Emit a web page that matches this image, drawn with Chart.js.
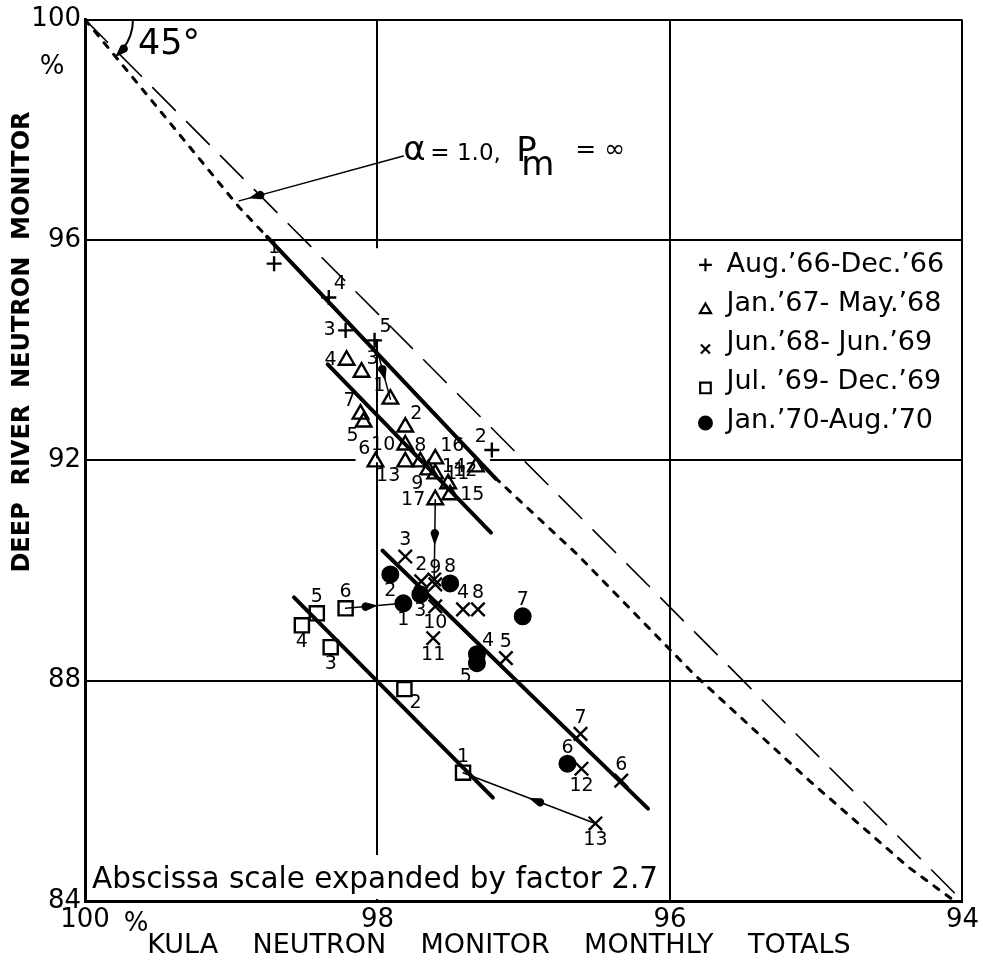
<!DOCTYPE html>
<html>
<head>
<meta charset="utf-8">
<title>Deep River vs Kula neutron monitor</title>
<script src="https://cdn.jsdelivr.net/npm/chart.js@4.4.1/dist/chart.umd.min.js"></script>
<style>
  html, body { margin: 0; padding: 0; background: #fff; }
  #wrap { width: 983px; height: 961px; }
</style>
</head>
<body>
<div id="wrap"><canvas id="chart" width="983" height="961"></canvas></div>
<script>
// ── Data (monthly totals, % of base level; x = Kula, y = Deep River) ─────────
const plusLabel = 'Aug.’66-Dec.’66';
const plusX = [98.707, 97.218, 98.218, 98.333, 98.020];
const plusY = [95.570, 92.188, 94.358, 94.955, 94.177];
const plusNum = ['1', '2', '3', '4', '5'];

const triLabel = 'Jan.’67- May.’68';
const triX = [97.912, 97.810, 98.109, 98.211, 98.095, 98.014, 98.116, 97.707, 97.653,
              97.810, 97.605, 97.517, 97.810, 97.327, 97.503, 97.605, 97.605];
const triY = [93.110, 92.604, 93.599, 93.816, 92.694, 91.971, 92.839, 91.971, 91.826,
              92.278, 91.754, 91.573, 91.971, 91.881, 91.374, 92.025, 91.284];
const triNum = ['1', '2', '3', '4', '5', '6', '7', '8', '9', '10', '11', '12', '13', '14', '15', '16', '17'];

const crossLabel = 'Jun.’68- Jun.’69';
const crossX = [97.612, 97.701, 97.810, 97.415, 97.122, 96.333, 96.612, 97.313, 97.605,
                97.605, 97.619, 96.605, 96.510];
const crossY = [89.837, 89.801, 90.253, 89.295, 88.409, 86.185, 87.034, 89.295, 89.747,
                89.349, 88.770, 86.401, 85.407];
const crossNum = ['1', '2', '3', '4', '5', '6', '7', '8', '9', '10', '11', '12', '13'];

const sqLabel = 'Jul. ’69- Dec.’69';
const sqX = [97.415, 97.816, 98.320, 98.517, 98.415, 98.218];
const sqY = [86.329, 87.848, 88.608, 89.005, 89.222, 89.313];
const sqNum = ['1', '2', '3', '4', '5', '6'];

const dotLabel = 'Jan.’70-Aug.’70';
const dotX = [97.823, 97.912, 97.707, 97.320, 97.320, 96.701, 97.007, 97.503];
const dotY = [89.403, 89.928, 89.566, 88.481, 88.318, 86.492, 89.168, 89.765];
const dotNum = ['1', '2', '3', '4', '5', '6', '7', '8'];

// hand-fitted regression lines, one per period
const fitAX = [98.755, 97.190], fitAY = [96.058, 91.664];
const fitBX = [98.340, 97.224], fitBY = [93.743, 90.687];
const fitCX = [97.966, 96.150], fitCY = [90.362, 85.678];
const fitDX = [98.571, 97.211], fitDY = [89.512, 85.877];

// theoretical curve alpha = 1.0, Pm = infinity
const theoX = [100, 99.714, 98.946, 97.211, 96.633, 95.837, 95.048, 94.367, 94.08];
const theoY = [100, 99.080, 96.594, 91.723, 90.289, 88.119, 86.185, 84.610, 84.05];

// 45 degree reference line
const diagX = [100, 94];
const diagY = [100, 84];

// leader from the curve label to the curve
const leaderX = [97.823, 98.946];
const leaderY = [97.523, 96.709];

const xTicks = [100, 98, 96, 94];
const yTicks = [84, 88, 92, 96, 100];

const NOTE_TEXT = 'Abscissa scale expanded by factor 2.7';
const X_TITLE = 'KULA    NEUTRON    MONITOR    MONTHLY    TOTALS';
const Y_TITLE = 'DEEP  RIVER  NEUTRON  MONITOR';

// ── Styles ────────────────────────────────────────────────────────────────────
const FONT = '"DejaVu Sans", sans-serif';
const plusPos = ['n', 'nw', 'w', 'ne', 'ne'];
const triPos = ['nw', 'ne', 'ne', 'w', 'sw', 'nw', 'nw', 'n', 'sw', 'w', 'e', 'ne', 'sw', 'w', 'e', 'ne', 'w'];
const crossPos = [null, 'n', 'n', 'n', 'n', 'n', 'n', 'n', 'n', 's', 's', 's', 's'];
const sqPos = ['n', 'se', 's', 's', 'n', 'n'];
const dotPos = ['s', 's', 's', 'ne', 'sw', 'n', 'n', 'n'];

// stretches where the original drawing leaves the grid blank: [axis, at, from, to]
const gridGaps = [['x', 98, 95.85, 94.2], ['y', 92, 98.15, 97.23]];

const pts = (xs, ys) => xs.map((v, i) => ({ x: v, y: ys[i] }));

function markerSet(label, xs, ys, nums, pos, style, radius, fill, row) {
  return {
    label, data: pts(xs, ys), nums, numPos: pos, legendRow: row,
    pointStyle: style, pointRadius: radius, pointHoverRadius: radius,
    pointBorderWidth: 2.4, pointBorderColor: '#000', pointBackgroundColor: fill,
    showLine: false, order: 0
  };
}

function lineSet(data, width, dash, order) {
  return {
    data, showLine: true, pointRadius: 0, borderColor: '#000', borderWidth: width,
    borderDash: dash, borderCapStyle: 'round', fill: false, order
  };
}

// connectors showing the month-to-month sequence between periods
function link(xs0, ys0, i0, xs1, ys1, i1, t) {
  const ds = lineSet([{ x: xs0[i0], y: ys0[i0] }, { x: xs1[i1], y: ys1[i1] }], 1.5, [], 1);
  ds.arrowAt = t;
  return ds;
}

const leaderSet = lineSet(pts(leaderX, leaderY), 1.5, [], 1);
leaderSet.arrowAt = 0.89;
leaderSet.isLeader = true;

const datasets = [
  markerSet(plusLabel, plusX, plusY, plusNum, plusPos, 'cross', 7.5, 'rgba(0,0,0,0)', 0),
  markerSet(triLabel, triX, triY, triNum, triPos, 'triangle', 9, 'rgba(0,0,0,0)', 1),
  markerSet(crossLabel, crossX, crossY, crossNum, crossPos, 'crossRot', 9.5, 'rgba(0,0,0,0)', 2),
  markerSet(sqLabel, sqX, sqY, sqNum, sqPos, 'rect', 10, 'rgba(0,0,0,0)', 3),
  markerSet(dotLabel, dotX, dotY, dotNum, dotPos, 'circle', 7.8, '#000', 4),
  link(plusX, plusY, 4, triX, triY, 0, 0.54),
  link(triX, triY, 16, crossX, crossY, 0, 0.46),
  link(crossX, crossY, 12, sqX, sqY, 0, 0.44),
  link(sqX, sqY, 5, dotX, dotY, 0, 0.40),
  leaderSet,
  lineSet(pts(fitAX, fitAY), 4, [], 2),
  lineSet(pts(fitBX, fitBY), 4, [], 2),
  lineSet(pts(fitCX, fitCY), 4, [], 2),
  lineSet(pts(fitDX, fitDY), 4, [], 2),
  lineSet(pts(theoX, theoY), 3, [6, 9], 3),
  lineSet(pts(diagX, diagY), 1.6, [32, 16], 3)
];

// ── Drawing helpers ───────────────────────────────────────────────────────────
const OFFS = {
  n: [0, -16, 'center'], s: [0, 17, 'center'], e: [10, 0, 'left'], w: [-10, 0, 'right'],
  ne: [5, -13, 'left'], nw: [-5, -13, 'right'], se: [5, 14, 'left'], sw: [-5, 14, 'right']
};

function placeLabel(ctx, text, x, y, pos) {
  if (!pos) return;
  const o = OFFS[pos];
  ctx.textAlign = o[2];
  ctx.textBaseline = 'middle';
  ctx.fillText(text, x + o[0], y + o[1]);
}

function drawArrowHead(ctx, x, y, ang) {
  ctx.save();
  ctx.translate(x, y);
  ctx.rotate(ang);
  ctx.beginPath();
  ctx.moveTo(9, 0);
  ctx.lineTo(-2, -4);
  ctx.arc(-3, 0, 4.3, -Math.PI / 2, Math.PI / 2, true);
  ctx.closePath();
  ctx.fill();
  ctx.restore();
}

const legendDy = [0, 6, 6, 6, 2];

const deco = {
  id: 'deco',
  beforeDatasetsDraw(chart) {
    const { ctx, chartArea: a, scales: { x, y } } = chart;
    ctx.save();
    ctx.fillStyle = '#fff';
    // blank stretches of grid
    gridGaps.forEach(([ax, at, from, to]) => {
      if (ax === 'x') {
        const px = x.getPixelForValue(at), y0 = y.getPixelForValue(from), y1 = y.getPixelForValue(to);
        ctx.fillRect(px - 2, y0, 4, y1 - y0);
      } else {
        const py = y.getPixelForValue(at), x0 = x.getPixelForValue(from), x1 = x.getPixelForValue(to);
        ctx.fillRect(x0, py - 2, x1 - x0, 4);
      }
    });
    // note box, stopping short of the 96 grid line
    ctx.font = '29.5px ' + FONT;
    const w = ctx.measureText(NOTE_TEXT).width;
    const boxRight = Math.min(a.left + 14 + w, x.getPixelForValue(96) - 2);
    ctx.fillRect(a.left + 2, a.bottom - 46, boxRight - a.left - 2, 44);
    ctx.fillStyle = '#000';
    ctx.textBaseline = 'middle';
    ctx.fillText(NOTE_TEXT, a.left + 7, a.bottom - 21);
    ctx.restore();
  },
  afterDatasetsDraw(chart) {
    const { ctx, chartArea: a, scales: { x, y } } = chart;
    ctx.save();
    ctx.fillStyle = '#000';
    ctx.strokeStyle = '#000';

    // month numbers beside each point
    ctx.font = '19px ' + FONT;
    chart.data.datasets.forEach((ds, i) => {
      if (!ds.nums) return;
      chart.getDatasetMeta(i).data.forEach((p, j) => placeLabel(ctx, ds.nums[j], p.x, p.y, ds.numPos[j]));
    });

    // arrowheads on connectors
    let lead = null;
    chart.data.datasets.forEach((ds, i) => {
      if (ds.arrowAt == null) return;
      const [p0, p1] = chart.getDatasetMeta(i).data;
      const t = ds.arrowAt;
      drawArrowHead(ctx, p0.x + (p1.x - p0.x) * t, p0.y + (p1.y - p0.y) * t,
        Math.atan2(p1.y - p0.y, p1.x - p0.x));
      if (ds.isLeader) lead = p0;
    });

    // curve label: alpha = 1.0, Pm = infinity
    if (lead) {
      const tx = lead.x, by = lead.y + 4;
      ctx.textAlign = 'left';
      ctx.textBaseline = 'alphabetic';
      ctx.font = '34px ' + FONT; ctx.fillText('α', tx, by);
      ctx.font = '23px ' + FONT; ctx.fillText('= 1.0,', tx + 27, by);
      ctx.font = '34px ' + FONT; ctx.fillText('P', tx + 113, by + 1);
      ctx.font = '34px ' + FONT; ctx.fillText('m', tx + 118, by + 15);
      ctx.font = '25px ' + FONT; ctx.fillText('= ∞', tx + 172, by - 3);
    }

    // 45 degree arc at the origin corner
    const cx = x.getPixelForValue(diagX[0]), cy = y.getPixelForValue(diagY[0]);
    const ang = Math.atan2(y.getPixelForValue(diagY[1]) - cy, x.getPixelForValue(diagX[1]) - cx);
    ctx.lineWidth = 2;
    ctx.beginPath();
    ctx.arc(cx, cy, 48, 0, ang - 0.12);
    ctx.stroke();
    drawArrowHead(ctx, cx + 48 * Math.cos(ang - 0.08), cy + 48 * Math.sin(ang - 0.08), ang + Math.PI / 2);
    ctx.font = '35px ' + FONT;
    ctx.textAlign = 'left';
    ctx.textBaseline = 'middle';
    ctx.fillText('45°', cx + 53, cy + 25);

    // percent signs next to the 100 ticks
    ctx.font = '26px ' + FONT;
    ctx.textAlign = 'center';
    ctx.fillText('%', a.left - 33, y.getPixelForValue(100) + 48);
    ctx.fillText('%', x.getPixelForValue(100) + 51, a.bottom + 23);

    // legend
    chart.data.datasets.forEach(ds => {
      if (ds.legendRow == null) return;
      const r = ds.legendRow;
      const ly = y.getPixelForValue(96) + 25 + r * 39;
      ctx.lineWidth = 2.2;
      ctx.fillStyle = ds.pointBackgroundColor;
      Chart.helpers.drawPoint(ctx, {
        pointStyle: ds.pointStyle, radius: ds.pointStyle === 'rect' ? 7.5 : 6.4,
        borderWidth: 2.2, rotation: 0
      }, a.right - 257, ly + legendDy[r]);
      ctx.fillStyle = '#000';
      ctx.font = '27px ' + FONT;
      ctx.textAlign = 'left';
      ctx.textBaseline = 'middle';
      ctx.fillText(ds.label, a.right - 236, ly);
    });

    // axis titles
    ctx.textAlign = 'center';
    ctx.textBaseline = 'middle';
    ctx.font = '27px ' + FONT;
    ctx.fillText(X_TITLE, 499, chart.height - 15);
    ctx.save();
    ctx.translate(23, 342);
    ctx.rotate(-Math.PI / 2);
    ctx.font = 'bold 24px ' + FONT;
    ctx.fillText(Y_TITLE, 0, 0);
    ctx.restore();

    ctx.restore();
  }
};

// ── Chart ─────────────────────────────────────────────────────────────────────
new Chart(document.getElementById('chart'), {
  type: 'scatter',
  data: { datasets },
  options: {
    responsive: false,
    animation: false,
    events: [],
    layout: { autoPadding: false, padding: { top: 16, right: 16, left: 0, bottom: 0 } },
    plugins: { legend: { display: false }, tooltip: { enabled: false } },
    scales: {
      x: {
        type: 'linear', reverse: true, min: 94, max: 100,
        afterBuildTicks: s => { s.ticks = xTicks.map(v => ({ value: v })); },
        afterFit: s => { s.height = 60; },
        ticks: { color: '#000', font: { family: FONT, size: 26 }, padding: 4, maxRotation: 0 },
        grid: { color: '#000', lineWidth: 2, drawTicks: false },
        border: { color: '#000', width: 3 }
      },
      y: {
        type: 'linear', min: 84, max: 100,
        afterBuildTicks: s => { s.ticks = yTicks.map(v => ({ value: v })); },
        afterFit: s => { s.width = 85; },
        ticks: { color: '#000', font: { family: FONT, size: 26 }, padding: 4 },
        grid: { color: '#000', lineWidth: 2, drawTicks: false },
        border: { color: '#000', width: 3 }
      }
    }
  },
  plugins: [deco]
});
</script>
</body>
</html>
